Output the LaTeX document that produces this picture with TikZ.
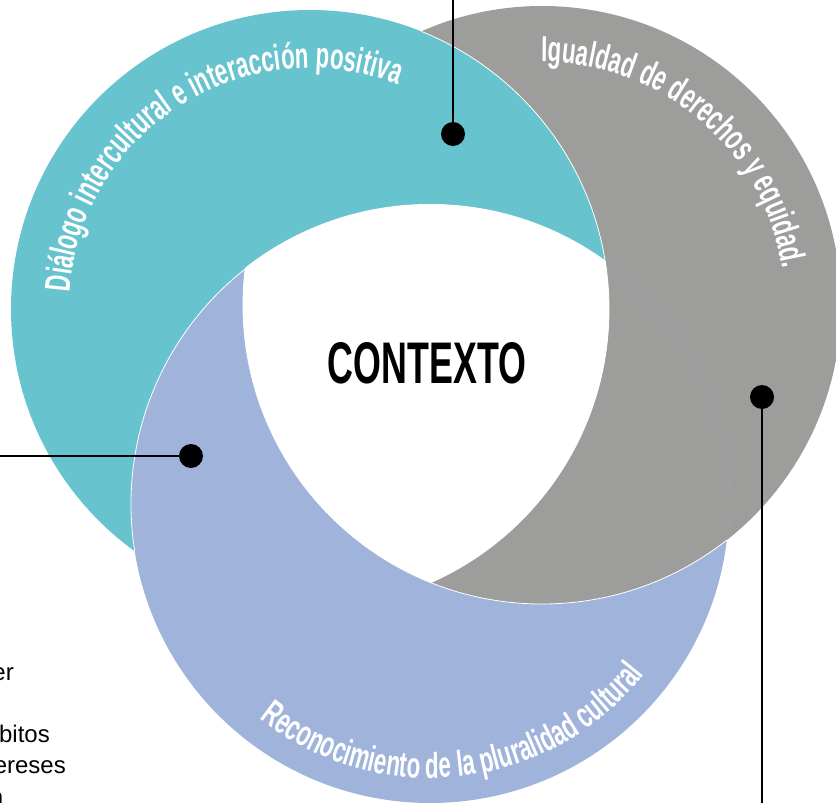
\documentclass[tikz,border=0pt]{standalone}
\usepackage{fontspec}
\setmainfont{Liberation Sans}
\newfontfamily\condfont[FakeStretch=0.62]{Liberation Sans}
\newfontfamily\ctxfont[FakeStretch=0.61]{Liberation Sans}
\usetikzlibrary{decorations.text}
\definecolor{tealc}{RGB}{103,195,206}
\definecolor{grayc}{RGB}{157,157,156}
\definecolor{lavc}{RGB}{160,180,219}
\newcommand{\myarcfont}{\fontsize{36}{36}\selectfont\condfont\bfseries\color{white}}
\begin{document}
\begin{tikzpicture}[x=1pt,y=-1pt,
  dotnode/.style={circle,fill=black,inner sep=0pt,minimum size=24pt},
  leader/.style={line width=2.6pt,black},
  arclabel/.style={decorate,decoration={text along path,text align=center,text={|\myarcfont|#1}}},
  sidetext/.style={anchor=base east,inner sep=0pt,font=\fontsize{24}{24}\selectfont},
  seam/.style={white,line width=0.8pt}
]
\useasboundingbox (0,0) rectangle (836,803);
\coordinate (cA) at (310,309);
\coordinate (cB) at (542,305);
\coordinate (cC) at (430,504);
% base discs
\fill[tealc] (cA) circle[radius=299];
\fill[grayc] (cB) circle[radius=299];
\fill[lavc] (cC) circle[radius=299];
% cyclic overlaps
\begin{scope}\clip (cB) circle[radius=299]; \fill[tealc] (cA) circle[radius=299]; \end{scope}
\begin{scope}\clip (cC) circle[radius=299]; \fill[grayc] (cB) circle[radius=299]; \end{scope}
\begin{scope}\clip (cA) circle[radius=299]; \fill[lavc] (cC) circle[radius=299]; \end{scope}
% seams
\begin{scope}\clip (cC) circle[radius=299]; \draw[seam] (cB) circle[radius=299]; \end{scope}
\begin{scope}\clip (cA) circle[radius=299]; \draw[seam] (cC) circle[radius=299]; \end{scope}
\begin{scope}\clip (cB) circle[radius=299]; \draw[seam] (cA) circle[radius=299]; \end{scope}
% white centre
\begin{scope}\clip (cA) circle[radius=299]; \clip (cB) circle[radius=299]; \fill[white] (cC) circle[radius=300]; \end{scope}
% curved labels
\path[arclabel={Diálogo intercultural e interacción positiva}] (cA) ++(167.7:241) arc[start angle=167.7,end angle=307.7,radius=241];
\path[arclabel={Igualdad de derechos y equidad.}] (cB) ++(240.7:243) arc[start angle=240.7,end angle=380.7,radius=243];
\path[arclabel={Reconocimiento de la pluralidad cultural}] (cC) ++(153.5:274) arc[start angle=153.5,end angle=13.5,radius=274];
% centre title
\node[font={\ctxfont\bfseries\fontsize{58.7}{60}\selectfont}] (ctx) at (427,363) {CONTEXTO};
% leaders
\node[dotnode] (dotA) at (453,134) {};
\coordinate (endA) at (453,-4);
\draw[leader] (dotA) -- (endA);
\node[dotnode] (dotC) at (191,456) {};
\coordinate (endC) at (-4,456);
\draw[leader] (dotC) -- (endC);
\node[dotnode] (dotB) at (762,397) {};
\coordinate (endB) at (762,808);
\draw[leader] (dotB) -- (endB);
% cut-off side text
\node[sidetext] (t1) at (14,680) {er};
\node[sidetext] (t2) at (50,742) {bitos};
\node[sidetext] (t3) at (66,773) {ereses};
\node[sidetext] (t4) at (3.5,805) {n};
\end{tikzpicture}
\end{document}
